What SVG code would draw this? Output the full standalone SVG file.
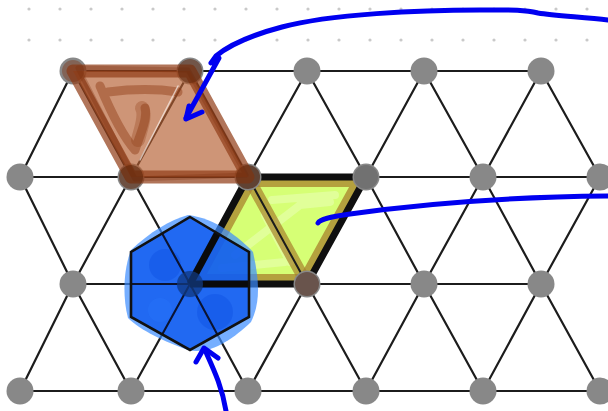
<svg xmlns="http://www.w3.org/2000/svg" width="608" height="411" viewBox="0 0 608 411">
<style>
.dot{fill:#c9c9c9}
.edge{stroke:#1c1c1c;stroke-width:2.2;fill:none}
.node{fill:#888888}
.ink{fill:none;stroke:#0000f0;stroke-width:5;stroke-linecap:round;stroke-linejoin:round}
</style>
<defs>
<clipPath id="greenClip"><polygon points="248,177 366,177 307,284 190,284"/></clipPath>
<clipPath id="brownClip"><polygon points="73,71 190,71 248,177 131,177"/></clipPath>
<clipPath id="hexClip"><polygon points="190,217 249,252 249,317 190,350 131,317 131,252"/></clipPath>
</defs>
<rect width="608" height="411" fill="#ffffff"/>
<g id="dot-grid">
<circle class="dot" cx="29" cy="9" r="1.6"/><circle class="dot" cx="60" cy="9" r="1.6"/><circle class="dot" cx="91" cy="9" r="1.6"/><circle class="dot" cx="122" cy="9" r="1.6"/><circle class="dot" cx="153" cy="9" r="1.6"/><circle class="dot" cx="184" cy="9" r="1.6"/><circle class="dot" cx="215" cy="9" r="1.6"/><circle class="dot" cx="246" cy="9" r="1.6"/><circle class="dot" cx="277" cy="9" r="1.6"/><circle class="dot" cx="308" cy="9" r="1.6"/><circle class="dot" cx="339" cy="9" r="1.6"/><circle class="dot" cx="370" cy="9" r="1.6"/><circle class="dot" cx="401" cy="9" r="1.6"/><circle class="dot" cx="432" cy="9" r="1.6"/><circle class="dot" cx="463" cy="9" r="1.6"/><circle class="dot" cx="494" cy="9" r="1.6"/><circle class="dot" cx="525" cy="9" r="1.6"/><circle class="dot" cx="556" cy="9" r="1.6"/><circle class="dot" cx="587" cy="9" r="1.6"/>
<circle class="dot" cx="29" cy="40" r="1.6"/><circle class="dot" cx="60" cy="40" r="1.6"/><circle class="dot" cx="91" cy="40" r="1.6"/><circle class="dot" cx="122" cy="40" r="1.6"/><circle class="dot" cx="153" cy="40" r="1.6"/><circle class="dot" cx="184" cy="40" r="1.6"/><circle class="dot" cx="215" cy="40" r="1.6"/><circle class="dot" cx="246" cy="40" r="1.6"/><circle class="dot" cx="277" cy="40" r="1.6"/><circle class="dot" cx="308" cy="40" r="1.6"/><circle class="dot" cx="339" cy="40" r="1.6"/><circle class="dot" cx="370" cy="40" r="1.6"/><circle class="dot" cx="401" cy="40" r="1.6"/><circle class="dot" cx="432" cy="40" r="1.6"/><circle class="dot" cx="463" cy="40" r="1.6"/><circle class="dot" cx="494" cy="40" r="1.6"/><circle class="dot" cx="525" cy="40" r="1.6"/><circle class="dot" cx="556" cy="40" r="1.6"/><circle class="dot" cx="587" cy="40" r="1.6"/>
</g>
<g id="connectors">
<path class="edge" d="M73,71H541 M20,177H600 M73,284H541 M20,391H600"/>
<path class="edge" d="M73,71L20,177 M73,71L131,177 M190,71L131,177 M190,71L248,177 M307,71L248,177 M307,71L366,177 M424,71L366,177 M424,71L483,177 M541,71L483,177 M541,71L600,177"/>
<path class="edge" d="M20,177L73,284 M131,177L73,284 M131,177L190,284 M248,177L190,284 M248,177L307,284 M366,177L307,284 M366,177L424,284 M483,177L424,284 M483,177L541,284 M600,177L541,284"/>
<path class="edge" d="M73,284L20,391 M73,284L131,391 M190,284L131,391 M190,284L248,391 M307,284L248,391 M307,284L366,391 M424,284L366,391 M424,284L483,391 M541,284L483,391 M541,284L600,391"/>
</g>
<g id="green-rhombus">
<polygon points="248,177 366,177 307,284 190,284" fill="#d2ff66" opacity="0.9"/>
<g clip-path="url(#greenClip)" fill="none" stroke-linecap="round">
<path d="M272,200 L335,195 M235,255 L300,205 L330,202 M222,268 L285,262 M265,215 L290,262" stroke="#e8ffb0" stroke-width="8" opacity="0.6"/>
<polygon points="248,177 366,177 307,284 190,284" stroke="#a8822c" stroke-width="20" opacity="0.75" stroke-linejoin="round"/>
<line x1="248" y1="177" x2="307" y2="284" stroke="#a8822c" stroke-width="12" opacity="0.7"/>
<line x1="248" y1="177" x2="307" y2="284" stroke="#1c1c1c" stroke-width="2"/>
</g>
<polygon points="248,177 366,177 307,284 190,284" fill="none" stroke="#0f0f0f" stroke-width="7" stroke-linejoin="round"/>
</g>
<g id="nodes">
<circle class="node" cx="73" cy="71" r="13.5"/><circle class="node" cx="190" cy="71" r="13.5"/><circle class="node" cx="307" cy="71" r="13.5"/><circle class="node" cx="424" cy="71" r="13.5"/><circle class="node" cx="541" cy="71" r="13.5"/>
<circle class="node" cx="20" cy="177" r="13.5"/><circle class="node" cx="131" cy="177" r="13.5"/><circle class="node" cx="248" cy="177" r="13.5"/><circle class="node" cx="366" cy="177" r="13.5"/><circle class="node" cx="483" cy="177" r="13.5"/><circle class="node" cx="600" cy="177" r="13.5"/>
<circle class="node" cx="73" cy="284" r="13.5"/><circle class="node" cx="190" cy="284" r="13.5"/><circle class="node" cx="307" cy="284" r="13.5"/><circle class="node" cx="424" cy="284" r="13.5"/><circle class="node" cx="541" cy="284" r="13.5"/>
<circle class="node" cx="20" cy="391" r="13.5"/><circle class="node" cx="131" cy="391" r="13.5"/><circle class="node" cx="248" cy="391" r="13.5"/><circle class="node" cx="366" cy="391" r="13.5"/><circle class="node" cx="483" cy="391" r="13.5"/><circle class="node" cx="600" cy="391" r="13.5"/>
</g>
<g id="green-corner-tints">
<circle cx="248" cy="177" r="12" fill="#3a2010" opacity="0.45"/>
<circle cx="366" cy="177" r="12" fill="#2a2a2a" opacity="0.25"/>
<circle cx="307" cy="284" r="12" fill="#4a2010" opacity="0.5"/>
</g>
<g id="brown-rhombus">
<polygon points="73,71 190,71 248,177 131,177" fill="#b55e30" opacity="0.66"/>
<g clip-path="url(#brownClip)" fill="none" stroke-linecap="round" stroke-linejoin="round">
<path d="M100,86 C110,110 122,135 135,150 M135,150 C140,135 148,118 145,108 M108,92 C140,88 165,90 178,92" stroke="#8f3a14" stroke-width="9" opacity="0.45"/>
<path d="M138,140 C142,125 146,115 142,108" stroke="#8f3a14" stroke-width="14" opacity="0.3"/>
<path d="M178,86 L140,160" stroke="#ffffff" stroke-width="1.5" opacity="0.6"/>
</g>
<polygon points="73,71 190,71 248,177 131,177" fill="none" stroke="#93401a" stroke-width="13" opacity="0.72" stroke-linejoin="round"/>
<path d="M78,68 L188,70 L246,175 L135,179 Z" fill="none" stroke="#7a2e0c" stroke-width="5" opacity="0.3" stroke-linejoin="round"/>
<circle cx="73" cy="71" r="11" fill="#7a2e0c" opacity="0.4"/>
<circle cx="190" cy="71" r="12" fill="#5a2208" opacity="0.5"/>
<circle cx="131" cy="177" r="12" fill="#5a2208" opacity="0.55"/>
<circle cx="248" cy="177" r="12" fill="#5a2208" opacity="0.4"/>
</g>
<g id="blue-hexagon">
<path d="M188,215 C215,218 240,238 253,252 C258,275 262,300 251,322 C232,340 210,355 188,350 C165,342 140,330 128,318 C122,295 124,268 131,250 C150,232 170,220 188,215 Z" fill="#3a8cff" opacity="0.7"/>
<polygon points="190,217 249,252 249,317 190,350 131,317 131,252" fill="#0552ee" opacity="0.75"/>
<circle cx="165" cy="265" r="16" fill="#0040d8" opacity="0.25"/>
<circle cx="215" cy="312" r="18" fill="#0040d8" opacity="0.25"/>
<circle cx="160" cy="310" r="12" fill="#2a7aff" opacity="0.25"/>
<g clip-path="url(#hexClip)" stroke="#0c1430" stroke-width="2" fill="none">
<path d="M131,284H190 M131,177L190,284 M248,177L190,284 M190,284L131,391 M190,284L248,391"/>
<path d="M190,284H250" stroke="#0a0a0a" stroke-width="7"/>
<path d="M190,284L248,177" stroke="#0a0a0a" stroke-width="7"/>
</g>
<circle cx="190" cy="284" r="13" fill="#123a80" opacity="0.75"/>
<polygon points="190,217 249,252 249,317 190,350 131,317 131,252" fill="none" stroke="#111111" stroke-width="2.6" stroke-linejoin="miter"/>
</g>
<g id="annotations">
<path class="ink" d="M608,20 C585,17 555,16 538,13 C522,9 505,10 480,10 C420,10 330,14 282,27 C248,36 228,46 216,56 L211,63 L219,58 L186,118"/>
<path class="ink" d="M189,106 L186,119 L202,112"/>
<path class="ink" d="M318,223 C320,219 330,217 350,214 C420,204 500,197 608,196"/>
<path class="ink" d="M226,411 C222,386 213,368 205,350"/>
<path class="ink" d="M196,362 L204,348 L218,358"/>
</g>
</svg>
